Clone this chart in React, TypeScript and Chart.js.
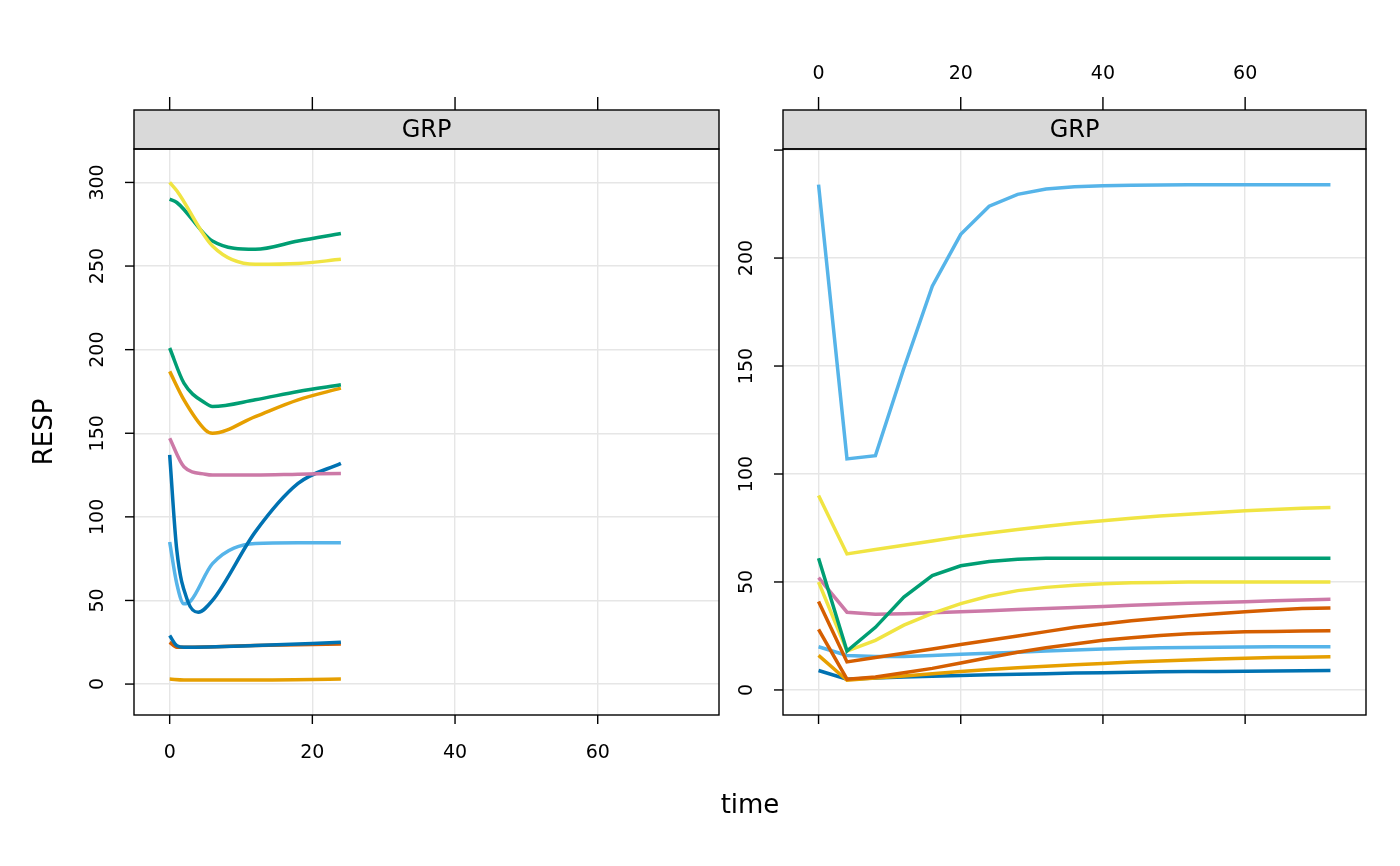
import React, { useEffect, useRef } from "react";
import { Chart, registerables } from "chart.js";
Chart.register(...registerables);

const C = { yellow: "#F0E442", green: "#009E73", orange: "#E69F00", pink: "#CC79A7", blue: "#0072B2", sky: "#56B4E9", verm: "#D55E00" };

const leftSeries = [
  { color: C.yellow, t: [0, 1, 6, 12, 18, 24], v: [300, 295, 262, 251, 251.5, 254] },
  { color: C.green, t: [0, 1, 6, 12, 18, 24], v: [290, 288, 265, 260, 265, 269.5] },
  { color: C.green, t: [0, 2, 5, 6, 12, 18, 24], v: [201, 180, 168, 166, 170, 175, 179] },
  { color: C.orange, t: [0, 2, 5, 6, 12, 18, 24], v: [187, 170, 152, 150, 160, 170, 177] },
  { color: C.pink, t: [0, 2, 5, 6, 12, 18, 24], v: [147, 130, 125.5, 125, 125, 125.5, 126] },
  { color: C.blue, t: [0, 1, 2.5, 4, 6, 12, 18, 24], v: [137, 80, 50, 43, 50, 91, 120, 132] },
  { color: C.sky, t: [0, 1, 2, 3, 6, 12, 18, 24], v: [85, 60, 48, 50, 72, 84, 84.5, 84.5] },
  { color: C.blue, t: [0, 1, 2, 12, 24], v: [29, 23, 22, 23, 25] },
  { color: C.verm, t: [0, 1, 2, 12, 24], v: [25, 22, 22, 23, 24] },
  { color: C.orange, t: [0, 2, 12, 24], v: [3, 2.5, 2.5, 3] },
];

const rightTimes = [0, 4, 8, 12, 16, 20, 24, 28, 32, 36, 40, 44, 48, 52, 56, 60, 64, 68, 72];
const rightSeries = [
  { color: C.sky, v: [234, 107, 108.5, 149, 187, 211, 224, 229.5, 232, 233, 233.5, 233.7, 233.8, 233.9, 234, 234, 234, 234, 234] },
  { color: C.yellow, v: [90, 63, 65, 67, 69, 71, 72.7, 74.3, 75.8, 77.2, 78.4, 79.5, 80.5, 81.4, 82.2, 83, 83.6, 84.1, 84.5] },
  { color: C.green, v: [61, 18, 29, 43, 53, 57.5, 59.5, 60.5, 61, 61, 61, 61, 61, 61, 61, 61, 61, 61, 61] },
  { color: C.yellow, v: [50, 18, 23, 30, 35.5, 40, 43.5, 46, 47.5, 48.5, 49.2, 49.6, 49.8, 50, 50, 50, 50, 50, 50] },
  { color: C.pink, v: [52, 36, 35, 35.3, 35.7, 36.2, 36.7, 37.2, 37.7, 38.2, 38.7, 39.2, 39.7, 40.1, 40.5, 40.9, 41.3, 41.7, 42] },
  { color: C.verm, v: [41, 13, 15, 17, 19, 21, 23, 25, 27, 29, 30.5, 32, 33.2, 34.3, 35.3, 36.2, 37, 37.7, 38] },
  { color: C.verm, v: [28, 5, 6, 8, 10, 12.5, 15, 17.5, 19.5, 21.3, 23, 24.2, 25.2, 26, 26.5, 26.9, 27.1, 27.3, 27.4] },
  { color: C.sky, v: [20, 16, 15.5, 15.5, 16, 16.5, 17, 17.5, 18, 18.5, 19, 19.3, 19.5, 19.7, 19.8, 19.9, 20, 20, 20] },
  { color: C.orange, v: [16, 4.5, 5.5, 6.5, 7.5, 8.5, 9.5, 10.3, 11, 11.7, 12.3, 12.9, 13.4, 13.9, 14.3, 14.7, 15, 15.2, 15.4] },
  { color: C.blue, v: [9, 5, 5.5, 6, 6.3, 6.7, 7, 7.3, 7.5, 7.8, 8, 8.2, 8.4, 8.5, 8.6, 8.7, 8.8, 8.9, 9] },
];

const xTicks = [0, 20, 40, 60];
const leftYTicks = [0, 50, 100, 150, 200, 250, 300];
const rightYTicks = [0, 50, 100, 150, 200, 250];
const FONT = "DejaVu Sans, sans-serif";

function makePlugin(isLeft: boolean, yTicks: number[]) {
  return {
    id: "lattice",
    afterDraw(chart: any) {
      const ctx = chart.ctx;
      const a = chart.chartArea;
      const xs = chart.scales.x, ys = chart.scales.y;
      ctx.save();
      ctx.strokeStyle = "#000";
      ctx.lineWidth = 1.4;
      const sTop = a.top - 39;
      ctx.fillStyle = "#d9d9d9";
      ctx.fillRect(a.left, sTop, a.right - a.left, 39);
      ctx.strokeRect(a.left, sTop, a.right - a.left, 39);
      ctx.fillStyle = "#000";
      ctx.font = `24px ${FONT}`;
      ctx.textAlign = "center";
      ctx.textBaseline = "middle";
      ctx.fillText("GRP", (a.left + a.right) / 2, sTop + 21);
      ctx.strokeRect(a.left, a.top, a.right - a.left, a.bottom - a.top);
      ctx.font = `19px ${FONT}`;
      for (const t of xTicks) {
        const px = xs.getPixelForValue(t);
        ctx.beginPath();
        ctx.moveTo(px, a.bottom); ctx.lineTo(px, a.bottom + 9);
        ctx.moveTo(px, sTop); ctx.lineTo(px, sTop - 13);
        ctx.stroke();
        ctx.textBaseline = "middle";
        if (isLeft) ctx.fillText(String(t), px, a.bottom + 38);
        else ctx.fillText(String(t), px, sTop - 36);
      }
      for (const t of yTicks) {
        const py = ys.getPixelForValue(t);
        ctx.beginPath();
        ctx.moveTo(a.left, py); ctx.lineTo(a.left - 9, py);
        ctx.stroke();
        if (t <= (isLeft ? 300 : 200)) {
          ctx.save();
          ctx.translate(a.left - 36, py);
          ctx.rotate(-Math.PI / 2);
          ctx.textAlign = "center";
          ctx.textBaseline = "middle";
          ctx.fillText(String(t), 0, 0);
          ctx.restore();
        }
      }
      if (isLeft) {
        ctx.font = `26px ${FONT}`;
        ctx.save();
        ctx.translate(45, (a.top + a.bottom) / 2);
        ctx.rotate(-Math.PI / 2);
        ctx.textAlign = "center";
        ctx.textBaseline = "middle";
        ctx.fillText("RESP", 0, 0);
        ctx.restore();
        ctx.textAlign = "center";
        ctx.fillText("time", 750, 806);
      }
      ctx.restore();
    },
  };
}

function Panel({ isLeft }: { isLeft: boolean }) {
  const ref = useRef<HTMLCanvasElement>(null);
  useEffect(() => {
    const datasets = isLeft
      ? leftSeries.map((s) => ({ data: s.t.map((t, i) => ({ x: t, y: s.v[i] })), borderColor: s.color, cubicInterpolationMode: "monotone" as const }))
      : rightSeries.map((s) => ({ data: rightTimes.map((t, i) => ({ x: t, y: s.v[i] })), borderColor: s.color, tension: 0 }));
    const yTicks = isLeft ? leftYTicks : rightYTicks;
    const chart = new Chart(ref.current!, {
      type: "line",
      data: { datasets: datasets.map((d) => ({ ...d, borderWidth: 3.5, pointRadius: 0, fill: false })) as any },
      plugins: [makePlugin(isLeft, yTicks)],
      options: {
        animation: false,
        responsive: false,
        layout: { padding: isLeft ? { left: 134, right: 681, top: 149, bottom: 151 } : { left: 783, right: 34, top: 149, bottom: 151 } },
        plugins: { legend: { display: false }, tooltip: { enabled: false } },
        scales: {
          x: {
            type: "linear", min: -5, max: 77,
            ticks: { display: false }, grid: { color: "#e6e6e6", drawTicks: false, lineWidth: 1.4 }, border: { display: false },
            afterBuildTicks: (s: any) => { s.ticks = xTicks.map((v) => ({ value: v })); },
            afterFit: (s: any) => { s.height = 0; },
          },
          y: {
            type: "linear", min: isLeft ? -18.5 : -11.6, max: isLeft ? 320 : 250.5,
            ticks: { display: false }, grid: { color: "#e6e6e6", drawTicks: false, lineWidth: 1.4 }, border: { display: false },
            afterBuildTicks: (s: any) => { s.ticks = yTicks.map((v) => ({ value: v })); },
            afterFit: (s: any) => { s.width = 0; },
          },
        },
      } as any,
    });
    return () => chart.destroy();
  }, [isLeft]);
  return <canvas ref={ref} width={1400} height={866} style={{ position: "absolute", left: 0, top: 0, width: 1400, height: 866 }} />;
}

export default function App() {
  return (
    <div style={{ position: "absolute", left: 0, top: 0, width: 1400, height: 866, background: "#fff" }}>
      <Panel isLeft={true} />
      <Panel isLeft={false} />
    </div>
  );
}
